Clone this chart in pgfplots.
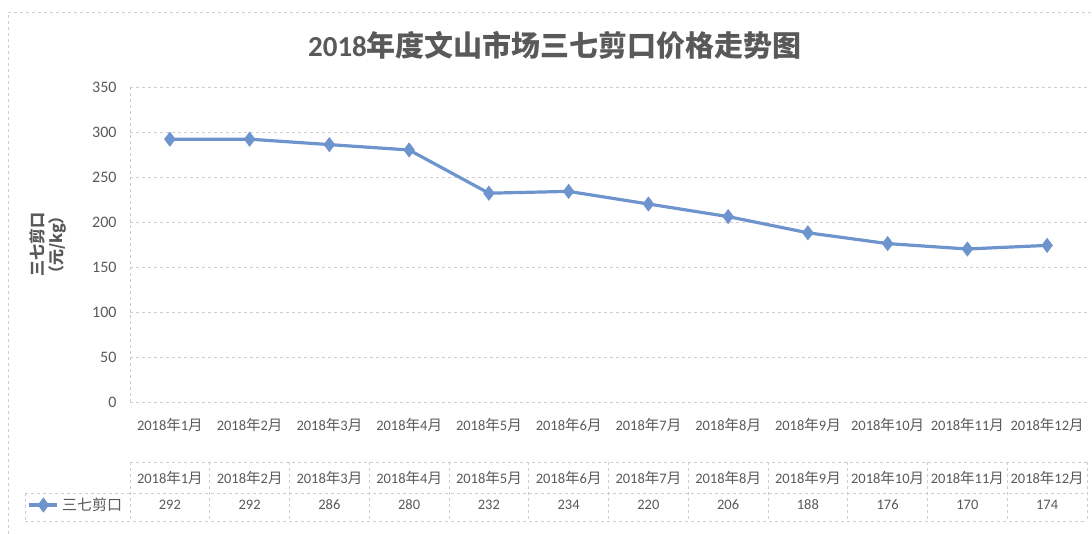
\documentclass[border=0pt]{standalone}
\usepackage{fontspec}
\setmainfont{Carlito}
\newfontfamily\cjk{Noto Sans CJK SC}
\usepackage{pgfplots}
\pgfplotsset{compat=1.18}
\definecolor{lineblue}{RGB}{110,148,206}
\definecolor{txt}{RGB}{89,89,89}
\definecolor{gridc}{RGB}{205,205,205}
\newcommand\nian{{\cjk 年}}
\newcommand\yue{{\cjk 月}}
\begin{document}
\begin{tikzpicture}
\useasboundingbox (0,0) rectangle (1092pt,534pt);
\draw[gridc, dashed] (8pt,0pt) -- (8pt,522pt) -- (1092pt,522pt);
\node[text=txt, font={\fontsize{29}{32}\selectfont\bfseries}] at (555pt,489pt) {2018{\cjk 年度文山市场三七剪口价格走势图}};
\node[text=txt, rotate=90, align=center, font={\fontsize{16}{19}\selectfont\bfseries\cjk}] at (48pt,289pt) {三七剪口\\（元/kg）};
\begin{axis}[
  at={(130pt,132pt)}, anchor=south west,
  scale only axis, width=957pt, height=315pt,
  xmin=-0.5, xmax=11.5, ymin=0, ymax=350,
  ytick={0,50,...,350},
  xtick={0,...,11},
  xticklabels={2018\nian 1\yue,2018\nian 2\yue,2018\nian 3\yue,2018\nian 4\yue,2018\nian 5\yue,2018\nian 6\yue,2018\nian 7\yue,2018\nian 8\yue,2018\nian 9\yue,2018\nian 10\yue,2018\nian 11\yue,2018\nian 12\yue},
  major tick length=0pt,
  axis line style={draw=none},
  ymajorgrids, major grid style={gridc, dashed, line width=0.6pt},
  /pgf/number format/assume math mode=true,
  ticklabel style={text=txt},
  xticklabel style={yshift=-13pt, font={\fontsize{14.5}{17}\selectfont}},
  yticklabel style={xshift=-10pt, font={\fontsize{16}{19}\selectfont}},
  clip=false,
  legend style={draw=none, fill=none, at={(-0.107,-0.327)}, anchor=west, inner sep=0pt,
    font={\fontsize{15}{17}\selectfont\cjk}, text=txt, nodes={inner sep=3pt}},
  legend image code/.code={\draw[mark repeat=2,mark phase=2,#1] plot coordinates {(0pt,0pt) (14pt,0pt) (28pt,0pt)};},
]
\draw[gridc, dashed, line width=0.6pt] (rel axis cs:0,0) -- (rel axis cs:0,1);
\addplot[lineblue, line width=3.2pt, mark=diamond*, mark size=5pt, mark options={solid}] coordinates {
(0,292) (1,292) (2,286) (3,280) (4,232) (5,234) (6,220) (7,206) (8,188) (9,176) (10,170) (11,174)};
\addlegendentry{三七剪口}
\end{axis}
% data table
\draw[gridc, dashed, line width=0.6pt] (130pt,72pt) -- (1087pt,72pt);
\draw[gridc, dashed, line width=0.6pt] (25pt,41pt) -- (1087pt,41pt);
\draw[gridc, dashed, line width=0.6pt] (25pt,13pt) -- (1087pt,13pt);
\draw[gridc, dashed, line width=0.6pt] (25pt,41pt) -- (25pt,13pt);
\foreach \k in {0,...,12} {
  \draw[gridc, dashed, line width=0.6pt] ({(130+\k*79.75)*1pt},72pt) -- ({(130+\k*79.75)*1pt},13pt);
}
\foreach \k/\lab/\v in {0/1/292,1/2/292,2/3/286,3/4/280,4/5/232,5/6/234,6/7/220,7/8/206,8/9/188,9/10/176,10/11/170,11/12/174} {
  \node[text=txt, font={\fontsize{14.5}{17}\selectfont}] at ({(169.875+\k*79.75)*1pt},56pt) {2018\nian\lab\yue};
  \node[text=txt, font={\fontsize{14.5}{17}\selectfont}] at ({(169.875+\k*79.75)*1pt},29pt) {\v};
}
\end{tikzpicture}
\end{document}
